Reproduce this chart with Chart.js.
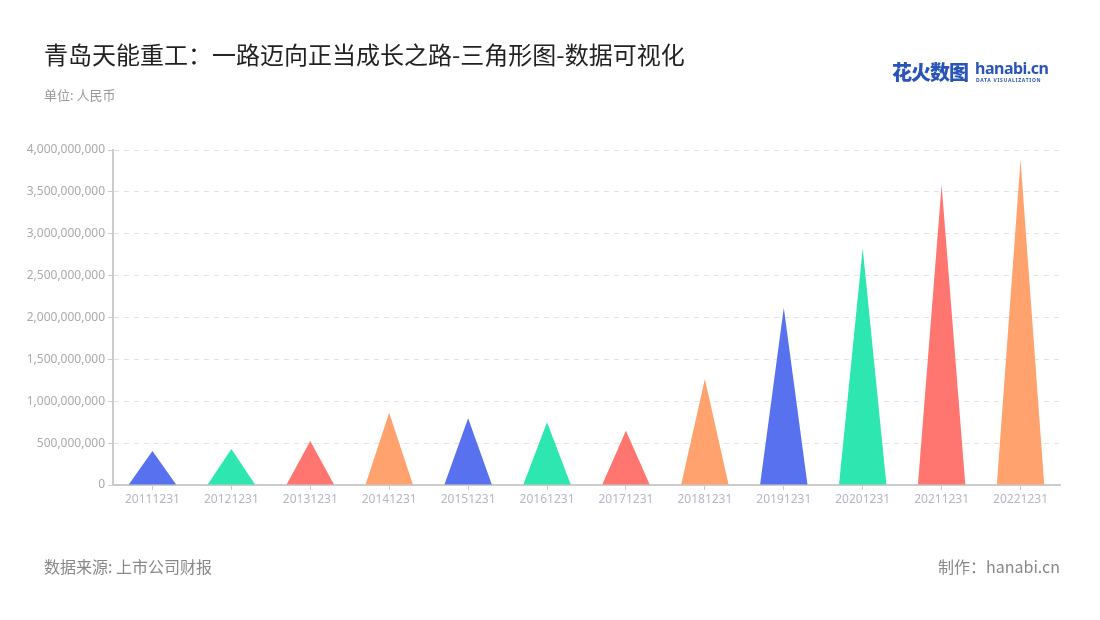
<!DOCTYPE html>
<html>
<head>
<meta charset="utf-8">
<script src="https://cdn.jsdelivr.net/npm/chart.js@4/dist/chart.umd.min.js"></script>
<style>
  body { margin: 0; background: #fff; font-family: "Noto Sans CJK SC", "Noto Sans", sans-serif; }
  #wrap { position: relative; width: 1100px; height: 620px; overflow: hidden; }
  #chart { position: absolute; left: 0; top: 0; }
  .t { position: absolute; white-space: nowrap; line-height: 1; }
  #title { left: 44px; top: 42px; font-size: 24px; color: #222; }
  #unit { left: 44px; top: 88px; font-size: 13px; color: #999; }
  #source { left: 44px; top: 558px; font-size: 16px; color: #888; }
  #maker { right: 40px; top: 558px; font-size: 16px; color: #888; }
  #logo-cn { left: 892px; top: 62px; font-size: 20px; font-weight: 900; color: #2a55b8; letter-spacing: -1px; }
  #logo-en { left: 975px; top: 60px; font-family: "Noto Sans", sans-serif; font-size: 16px; font-weight: 700; color: #2a55b8; letter-spacing: -0.5px; }
  #logo-sub { left: 976px; top: 78px; font-family: "Noto Sans", sans-serif; font-size: 5px; font-weight: 700; color: #2a55b8; letter-spacing: 0.7px; }
</style>
</head>
<body>
<div id="wrap">
  <canvas id="chart" width="1100" height="620"></canvas>
  <div class="t" id="title">青岛天能重工：一路迈向正当成长之路-三角形图-数据可视化</div>
  <div class="t" id="unit">单位: 人民币</div>
  <div class="t" id="logo-cn">花火数图</div>
  <div class="t" id="logo-en">hanabi.cn</div>
  <div class="t" id="logo-sub">DATA VISUALIZATION</div>
  <div class="t" id="source">数据来源: 上市公司财报</div>
  <div class="t" id="maker">制作：hanabi.cn</div>
</div>
<script>
const periods = ['20111231', '20121231', '20131231', '20141231', '20151231', '20161231',
                 '20171231', '20181231', '20191231', '20201231', '20211231', '20221231'];
const revenue = [405000000, 430000000, 525000000, 863000000, 796000000, 749000000,
                 648000000, 1266000000, 2117000000, 2826000000, 3582000000, 3881000000];
const palette = ['#5871ee', '#2ee6b0', '#ff7570', '#ffa26e'];

// bars are drawn as triangles using the bar element geometry
const trianglePlugin = {
    id: 'triangles',
    afterDatasetsDraw(chart) {
        const ctx = chart.ctx;
        const meta = chart.getDatasetMeta(0);
        meta.data.forEach((bar, i) => {
            const half = bar.width / 2;
            ctx.save();
            ctx.fillStyle = palette[i % palette.length];
            ctx.beginPath();
            ctx.moveTo(bar.x - half, bar.base);
            ctx.lineTo(bar.x, bar.y);
            ctx.lineTo(bar.x + half, bar.base);
            ctx.closePath();
            ctx.fill();
            ctx.restore();
        });
    }
};

const ctx = document.getElementById('chart').getContext('2d');
new Chart(ctx, {
    type: 'bar',
    data: {
        labels: periods,
        datasets: [{
            data: revenue,
            backgroundColor: 'rgba(0,0,0,0)',
            barPercentage: 0.6,
            categoryPercentage: 1.0,
        }]
    },
    options: {
        responsive: false,
        animation: false,
        layout: { padding: { left: 0, right: 40, top: 150, bottom: 105 } },
        plugins: {
            legend: { display: false },
            tooltip: { enabled: false },
        },
        scales: {
            x: {
                afterFit: (scale) => { scale.height = 30; },
                grid: {
                    offset: false,
                    drawOnChartArea: false,
                    tickLength: 5,
                    tickColor: '#ccc',
                },
                border: { display: true, color: '#ccc', width: 2 },
                ticks: {
                    color: '#b4b6c4',
                    font: { family: 'Noto Sans', size: 12 },
                    padding: 2,
                    maxRotation: 0,
                },
            },
            y: {
                min: 0,
                max: 4000000000,
                afterFit: (scale) => { scale.width = 113; },
                ticks: {
                    stepSize: 500000000,
                    color: '#aaa',
                    font: { family: 'Noto Sans', size: 12 },
                    padding: 3,
                    callback: (v) => v.toLocaleString('en-US'),
                },
                grid: {
                    color: '#e2e2e2',
                    tickColor: '#ccc',
                    tickLength: 5,
                    tickBorderDash: [],
                },
                border: { display: true, color: '#ccc', width: 2, dash: [5, 5] },
            },
        },
    },
    plugins: [trianglePlugin],
});
</script>
</body>
</html>
